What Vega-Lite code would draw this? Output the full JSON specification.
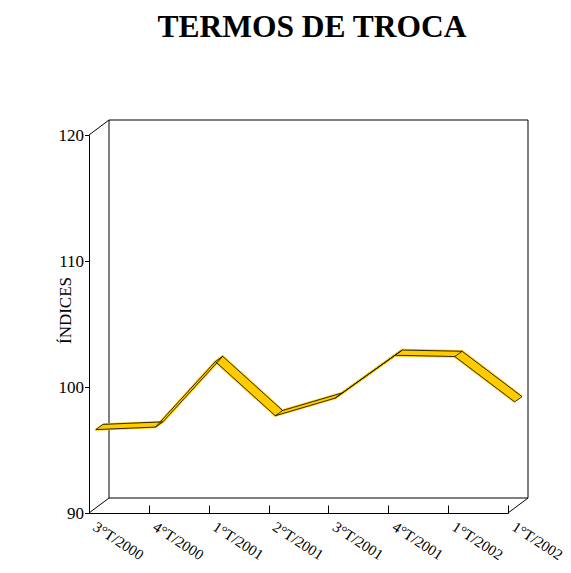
{
  "$schema": "https://vega.github.io/schema/vega-lite/v6.json",
  "autosize": "none",
  "padding": {"left": 89, "top": 120, "right": 42, "bottom": 60},
  "width": 440,
  "height": 393,
  "title": {"text": "TERMOS DE TROCA", "fontSize": 31.5, "fontWeight": "bold", "font": "Liberation Serif", "anchor": "middle", "baseline": "alphabetic", "offset": 51, "dx": 3, "color": "black"},
  "config": {"font": "Liberation Serif", "view": {"stroke": null}},
  "datasets": {
    "series": [
      {"q": "3°T/2000", "v": 96.2},
      {"q": "4°T/2000", "v": 96.4},
      {"q": "1°T/2001", "v": 101.6},
      {"q": "2°T/2001", "v": 97.3},
      {"q": "3°T/2001", "v": 98.7},
      {"q": "4°T/2001", "v": 102.1},
      {"q": "1°T/2002", "v": 102.0},
      {"q": "1°T/2002 ", "v": 98.4}
    ],
    "frame": [
      {"first": "3°T/2000", "last": "1°T/2002 ", "lo": 90, "hi": 120}
    ]
  },
  "data": {"name": "series"},
  "encoding": {
    "x": {"field": "q", "type": "ordinal", "sort": null,
      "scale": {"type": "point", "padding": 0, "range": [0, 419],
        "domain": ["3°T/2000", "4°T/2000", "1°T/2001", "2°T/2001", "3°T/2001", "4°T/2001", "1°T/2002", "1°T/2002 "]},
      "axis": {"title": null, "labelAngle": 33, "labelAlign": "left", "labelBaseline": "top", "labelFontSize": 15, "labelColor": "black", "domainColor": "black", "tickColor": "black", "tickSize": -8, "labelPadding": 14, "labelOffset": 9, "domainWidth": 1, "tickWidth": 1, "grid": false}},
    "y": {"field": "v", "type": "quantitative",
      "scale": {"domain": [90, 120], "range": [393, 15], "nice": false, "zero": false},
      "axis": {"title": "ÍNDICES", "values": [90, 100, 110, 120], "labelFontSize": 17, "labelColor": "black", "domainColor": "black", "tickColor": "black", "tickSize": 4.5, "labelPadding": 1, "grid": false, "titleFontSize": 17, "titleFontWeight": "normal", "titleColor": "black", "titleX": -24, "titleY": 190, "titleAlign": "center", "titleBaseline": "middle", "titleAngle": -90}}
  },
  "layer": [
    {"data": {"name": "frame"}, "mark": {"type": "rect", "fill": "transparent", "stroke": "black", "strokeWidth": 1, "xOffset": 20, "x2Offset": 20, "yOffset": -15, "y2Offset": -15},
      "encoding": {"x": {"field": "first", "type": "ordinal"}, "x2": {"field": "last"}, "y": {"field": "lo", "type": "quantitative"}, "y2": {"field": "hi"}}},
    {"data": {"name": "frame"}, "mark": {"type": "rule", "color": "black", "strokeWidth": 1, "x2Offset": 20, "y2Offset": -15},
      "encoding": {"x": {"field": "first", "type": "ordinal"}, "x2": {"field": "first"}, "y": {"field": "hi", "type": "quantitative"}, "y2": {"field": "hi"}}},
    {"data": {"name": "frame"}, "mark": {"type": "rule", "color": "black", "strokeWidth": 1, "x2Offset": 20, "y2Offset": -15},
      "encoding": {"x": {"field": "first", "type": "ordinal"}, "x2": {"field": "first"}, "y": {"field": "lo", "type": "quantitative"}, "y2": {"field": "lo"}}},
    {"data": {"name": "frame"}, "mark": {"type": "rule", "color": "black", "strokeWidth": 1, "x2Offset": 20, "y2Offset": -15},
      "encoding": {"x": {"field": "last", "type": "ordinal"}, "x2": {"field": "last"}, "y": {"field": "lo", "type": "quantitative"}, "y2": {"field": "lo"}}},
    {"mark": {"type": "line", "color": "#FFCC00", "strokeWidth": 2.4, "strokeJoin": "round", "xOffset": 6.7, "yOffset": -5.3}},
    {"mark": {"type": "line", "color": "#FFCC00", "strokeWidth": 2.4, "strokeJoin": "round", "xOffset": 8.2, "yOffset": -6.3}},
    {"mark": {"type": "line", "color": "#FFCC00", "strokeWidth": 2.4, "strokeJoin": "round", "xOffset": 9.6, "yOffset": -7.4}},
    {"mark": {"type": "line", "color": "#FFCC00", "strokeWidth": 2.4, "strokeJoin": "round", "xOffset": 11.1, "yOffset": -8.4}},
    {"mark": {"type": "line", "color": "#FFCC00", "strokeWidth": 2.4, "strokeJoin": "round", "xOffset": 12.5, "yOffset": -9.5}},
    {"mark": {"type": "line", "color": "#FFCC00", "strokeWidth": 2.4, "strokeJoin": "round", "xOffset": 14, "yOffset": -10.5}},
    {"mark": {"type": "line", "color": "black", "strokeWidth": 0.8, "xOffset": 6.7, "yOffset": -5.3}},
    {"mark": {"type": "line", "color": "black", "strokeWidth": 0.8, "xOffset": 14, "yOffset": -10.5}},
    {"mark": {"type": "rule", "color": "black", "strokeWidth": 0.8, "xOffset": 6.7, "yOffset": -5.3, "x2Offset": 14, "y2Offset": -10.5},
      "encoding": {"x2": {"field": "q"}, "y2": {"field": "v"}}}
  ]
}
